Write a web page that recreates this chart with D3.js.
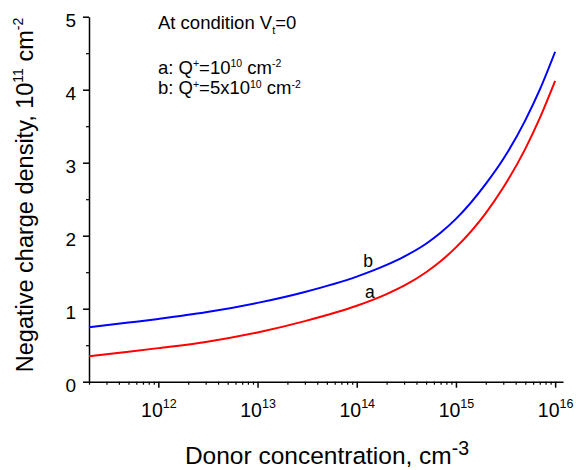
<!DOCTYPE html>
<html>
<head>
<meta charset="utf-8">
<script src="https://cdn.jsdelivr.net/npm/d3@7"></script>
<style>
  html, body { margin: 0; padding: 0; background: #fff; }
  svg { display: block; font-family: Arial, "Liberation Sans", sans-serif; }
</style>
</head>
<body>
<svg id="chart" width="576" height="470"></svg>
<script>
// ---- data ----
const donorConc = [2e11, 5e11, 1e12, 3e12, 1e13, 3e13, 1e14, 2e14, 3e14, 5e14, 7e14, 1e15, 2e15, 3e15, 5e15, 7e15, 1e16];
const seriesA   = [0.35, 0.41, 0.46, 0.545, 0.675, 0.83, 1.04, 1.20, 1.315, 1.50, 1.65, 1.84, 2.31, 2.66, 3.19, 3.61, 4.12];
const seriesB   = [0.745, 0.81, 0.86, 0.95, 1.08, 1.23, 1.44, 1.60, 1.714, 1.89, 2.04, 2.23, 2.71, 3.05, 3.58, 4.00, 4.52];
const xMajorTicks = [1e12, 1e13, 1e14, 1e15, 1e16];
const xTickExp = ["12", "13", "14", "15", "16"];
const yMajorTicks = [0, 1, 2, 3, 4, 5];
const yMinorTicks = [0.5, 1.5, 2.5, 3.5, 4.5];
const xDomain = [2e11, 1.2e16];
const yDomain = [0, 5];

const svg = d3.select("#chart");
const x = d3.scaleLog().domain(xDomain).range([89, 563]);
const y = d3.scaleLinear().domain(yDomain).range([381.7, 16.7]);

// minor x ticks
const xMinor = [];
for (let e = 11; e <= 16; e++) {
  for (let m = 2; m <= 9; m++) {
    const v = m * Math.pow(10, e);
    if (v >= xDomain[0] && v <= xDomain[1]) xMinor.push(v);
  }
}

const axisColor = "#000";

// x axis minor
svg.append("g").attr("transform", `translate(0,${y(0)})`)
  .call(d3.axisBottom(x).tickValues(xMinor).tickSize(3).tickFormat(""))
  .call(g => g.select(".domain").remove())
  .call(g => g.selectAll("line").attr("stroke", axisColor).attr("stroke-width", 1.2));

// x axis major
const gx = svg.append("g").attr("transform", `translate(0,${y(0)})`)
  .call(d3.axisBottom(x).tickValues(xMajorTicks).tickSize(6).tickSizeOuter(0).tickFormat(""));
gx.select(".domain").attr("stroke", axisColor).attr("stroke-width", 1.5);
gx.selectAll("line").attr("stroke", axisColor).attr("stroke-width", 1.5);
gx.selectAll(".tick").each(function(d, i) {
  const t = d3.select(this).append("text")
    .attr("y", 35).attr("fill", "#000").attr("text-anchor", "middle")
    .style("font-size", "19.5px");
  t.append("tspan").text("10");
  t.append("tspan").attr("dy", -9).style("font-size", "12.5px").text(xTickExp[i]);
});

// y axis minor
svg.append("g").attr("transform", `translate(${x(xDomain[0])},0)`)
  .call(d3.axisLeft(y).tickValues(yMinorTicks).tickSize(3).tickFormat(""))
  .call(g => g.select(".domain").remove())
  .call(g => g.selectAll("line").attr("stroke", axisColor).attr("stroke-width", 1.2));

// y axis major
const gy = svg.append("g").attr("transform", `translate(${x(xDomain[0])},0)`)
  .call(d3.axisLeft(y).tickValues(yMajorTicks).tickSize(6).tickSizeOuter(0).tickPadding(7).tickFormat(d3.format("d")));
gy.select(".domain").attr("stroke", axisColor).attr("stroke-width", 1.5);
gy.selectAll("line").attr("stroke", axisColor).attr("stroke-width", 1.5);
gy.selectAll("text").attr("fill", "#000").style("font-size", "19px").attr("dy", "0.52em");

// lines
const line = d3.line().x((d, i) => x(donorConc[i])).y(d => y(d)).curve(d3.curveMonotoneX);
svg.append("path").datum(seriesA).attr("d", line)
  .attr("fill", "none").attr("stroke", "#ff0000").attr("stroke-width", 2);
svg.append("path").datum(seriesB).attr("d", line)
  .attr("fill", "none").attr("stroke", "#0000ff").attr("stroke-width", 2);

// curve labels
svg.append("text").attr("x", x(1.3e14)).attr("y", y(1.575)).attr("text-anchor", "middle")
  .style("font-size", "17.5px").attr("fill", "#000").text("b");
svg.append("text").attr("x", x(1.36e14)).attr("y", y(1.147)).attr("text-anchor", "middle")
  .style("font-size", "17.5px").attr("fill", "#000").text("a");

// annotation
const ann = svg.append("g").style("font-size", "18.5px").attr("fill", "#000");
const t1 = ann.append("text").attr("x", 158).attr("y", 29.3);
t1.append("tspan").text("At condition V");
t1.append("tspan").attr("dy", 5).style("font-size", "11px").text("t");
t1.append("tspan").attr("dy", -5).text("=0");

function qLine(yPos, prefix, mant) {
  const t = ann.append("text").attr("x", 158).attr("y", yPos);
  t.append("tspan").text(prefix + "Q");
  t.append("tspan").attr("dy", -6.5).style("font-size", "10.5px").text("+");
  t.append("tspan").attr("dy", 6.5).text("=" + mant);
  t.append("tspan").attr("dy", -6.5).style("font-size", "10.5px").text("10");
  t.append("tspan").attr("dy", 6.5).text(" cm");
  t.append("tspan").attr("dy", -6.5).style("font-size", "10.5px").text("-2");
}
qLine(73.5, "a: ", "10");
qLine(94, "b: ", "5x10");

// x title
const xt = svg.append("text").attr("x", 327).attr("y", 464).attr("text-anchor", "middle")
  .style("font-size", "24.5px").attr("fill", "#000");
xt.append("tspan").text("Donor concentration, cm");
xt.append("tspan").attr("dy", -9).style("font-size", "19.5px").text("-3");

// y title
const yt = svg.append("text").attr("transform", "translate(33,195) rotate(-90)")
  .attr("text-anchor", "middle").style("font-size", "23.5px").attr("fill", "#000");
yt.append("tspan").text("Negative charge density, 10");
yt.append("tspan").attr("dy", -10).style("font-size", "14px").text("11");
yt.append("tspan").attr("dy", 10).text(" cm");
yt.append("tspan").attr("dy", -10).style("font-size", "14px").text("-2");
</script>
</body>
</html>
